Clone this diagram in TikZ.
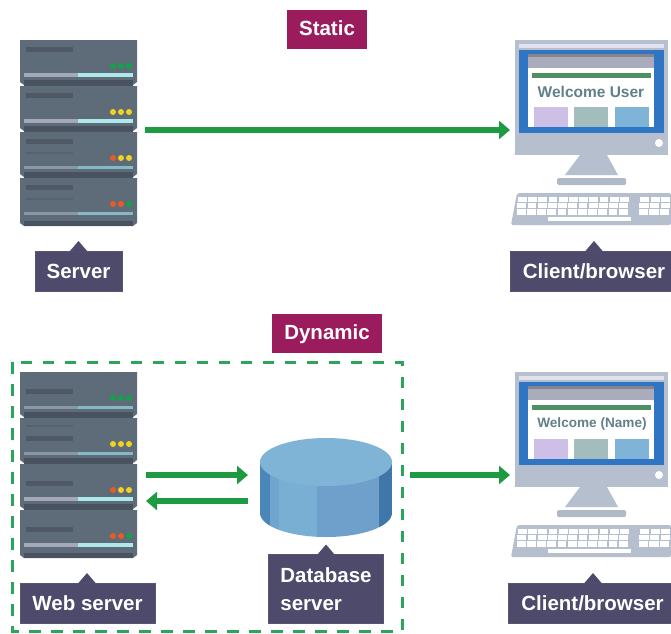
\documentclass[tikz,border=0pt]{standalone}
\usepackage{fontspec}
\setmainfont{Liberation Sans}
\usetikzlibrary{arrows.meta}
\definecolor{gr}{HTML}{1E9A42}
\definecolor{dashc}{HTML}{2BA55A}
\definecolor{lab}{HTML}{4D4A6C}
\definecolor{mag}{HTML}{9B1C5C}
\definecolor{srv}{HTML}{5E6B79}
\definecolor{srvd}{HTML}{48535F}
\definecolor{srvt}{HTML}{4F5965}
\definecolor{srvf}{HTML}{56626F}
\definecolor{mon}{HTML}{B6BFCE}
\definecolor{scr}{HTML}{2F75C4}
\definecolor{ledg}{HTML}{12A34A}
\definecolor{ledy}{HTML}{F2D21E}
\definecolor{ledr}{HTML}{EC5A24}
\definecolor{wel}{HTML}{62808A}
\definecolor{stripa}{HTML}{A4A8B8}
\definecolor{stripb}{HTML}{AEE8EA}
\definecolor{stripc}{HTML}{8A97A5}
\definecolor{stripd}{HTML}{85BAC4}
\definecolor{topbar}{HTML}{E2E1EE}
\definecolor{greyb}{HTML}{A9ADBB}
\definecolor{greybt}{HTML}{85848F}
\definecolor{line}{HTML}{4F8F63}
\definecolor{sqa}{HTML}{CDBFE6}
\definecolor{sqb}{HTML}{A3BDBD}
\definecolor{sqc}{HTML}{7FB4D8}
\definecolor{cyltop}{HTML}{7FB4D6}
\definecolor{cyla}{HTML}{4A86B8}
\definecolor{cylb}{HTML}{6FA6D0}
\definecolor{cylc}{HTML}{7AAFD4}
\definecolor{cyld}{HTML}{6F9FCB}
\definecolor{cyle}{HTML}{3F78A8}
\tikzset{
  flow/.style={draw=gr,line width=5.5pt,-{Triangle[length=11pt,width=18pt]}},
  lbl/.style={fill=lab,text=white,font=\fontsize{20.5}{28}\selectfont\bfseries,inner sep=0pt,align=left,draw=lab!80!gray,line width=.6pt},
  tag/.style={fill=mag,text=white,font=\fontsize{20.5}{24}\selectfont\bfseries,inner sep=0pt,text height=15pt,text depth=4pt},
  welc/.style={text=wel,inner sep=0pt}
}
% one rack unit: top y, height, three LED colours, extra drawing
\newcommand{\rackunit}[6]{%
  \begin{scope}[shift={(0,#1)}]
    \fill[srv] (20,0) -- (137,0) -- (137,#2-3) -- (133,#2) -- (24,#2) -- (20,#2-3) -- cycle;
    \fill[srvd] (24,#2-5) rectangle (133,#2);
    \fill[#3] (113,26) circle (3);
    \fill[#4] (121,26) circle (3);
    \fill[#5] (129,26) circle (3);
    \fill[stripc] (24,33.5) rectangle (78,36.5);
    \fill[stripd] (78,33.5) rectangle (133,36.5);
    #6
  \end{scope}}
\newcommand{\brightstrip}{\fill[stripa] (24,33) rectangle (78,36.5);\fill[stripb] (78,33) rectangle (133,36.5);}
\newcommand{\rackbar}[1]{\fill[srvt] (26,#1) rectangle (73,#1+4.5);}
\newcommand{\rackfaint}[1]{\fill[srvf] (26,#1) rectangle (73,#1+1.5);}
\newcommand{\rackone}{%
  \fill[srvd] (24,40) rectangle (133,226);
  \rackunit{40}{45}{ledg}{ledg}{ledg}{\brightstrip\rackbar{7}}
  \rackunit{86}{45}{ledy}{ledy}{ledy}{\brightstrip\rackbar{7}}
  \rackunit{132}{45}{ledr}{ledy}{ledy}{\rackbar{7}\rackfaint{20}}
  \rackunit{178}{48}{ledr}{ledr}{ledg}{\rackbar{7}\rackfaint{20}}}
\newcommand{\racktwo}{%
  \fill[srvd] (24,40) rectangle (133,226);
  \rackunit{40}{45}{ledg}{ledg}{ledg}{\rackbar{17}}
  \rackunit{86}{45}{ledy}{ledy}{ledy}{\rackfaint{7}\rackbar{18}}
  \rackunit{132}{45}{ledr}{ledy}{ledy}{\brightstrip\rackbar{17}}
  \rackunit{178}{48}{ledr}{ledr}{ledg}{\brightstrip\rackbar{17}}}
\newcommand{\desktop}[1]{%
  \fill[mon] (515,40) rectangle (668,155);
  \fill[topbar] (519,44) rectangle (664,48);
  \fill[scr] (519,50) rectangle (664,133);
  \fill[white] (528,54) rectangle (654,127);
  \fill[greyb] (528,54) rectangle (654,68);
  \fill[greybt] (528,54) rectangle (654,57);
  \fill[line] (532,73) rectangle (651,77.5);
  #1
  \fill[sqa] (534,107) rectangle (568,127);
  \fill[sqb] (574,107) rectangle (608,127);
  \fill[sqc] (615,107) rectangle (649,127);
  \fill[white] (659,143) circle (4);
  \fill[mon] (580,155) -- (607,155) -- (618,175) -- (565,175) -- cycle;
  \fill[mon!90!gray,rounded corners=1.5pt] (557,178) rectangle (626,185);
  \fill[mon,rounded corners=2pt] (517,193) -- (671,193) -- (671,225) -- (511,225) -- cycle;
  \foreach \rw in {0,1,2} {
    \foreach \cl in {0,...,10}
      \fill[white] (518+\cl*10.2-\rw*.6,197+\rw*6.2) rectangle ++(8.8,5.2);
    \foreach \cl in {0,1,2}
      \fill[white] (640+\cl*10.6-\rw*.6,197+\rw*6.2) rectangle ++(9.2,5.2);
  }
  \fill[white] (548,217) rectangle (631,220.5);
}
% label box: name, centre x, centre y, width, height, tip x, text
\newcommand{\tagbox}[7]{%
  \node[lbl,minimum width=#4pt,minimum height=#5pt] (#1) at (#2,#3) {#7};
  \fill[lab] (#6-9,#3-#5/2+.5) -- (#6,#3-#5/2-10) -- (#6+9,#3-#5/2+.5) -- cycle;}
\begin{document}
\begin{tikzpicture}[x=1pt,y=-1pt]
\useasboundingbox (0,0) rectangle (671,633);
\fill[white] (0,0) rectangle (671,633);
% static part
\node[tag,minimum width=80pt,minimum height=39pt] (static) at (327,29.5) {Static};
\rackone
\desktop{\node[welc,font=\fontsize{15.5}{18}\selectfont\bfseries] (welcome) at (591,92) {Welcome User};}
\tagbox{serverlabel}{78.5}{271}{87}{40}{78.5}{Server}
\tagbox{clientlabel}{594}{271}{168}{40}{594}{Client/browser}
\coordinate (serverout) at (145,130);
\coordinate (clientin) at (510,130);
\draw[flow] (serverout) -- (clientin);
% dynamic part
\node[tag,minimum width=110pt,minimum height=39pt] (dynamic) at (327,333.5) {Dynamic};
\draw[dashc,line width=3pt,dash pattern=on 11.5pt off 10.5pt] (12,362) rectangle (402,631);
\begin{scope}[shift={(0,332)}]
  \racktwo
  \desktop{\node[welc,font=\fontsize{13.6}{16}\selectfont\bfseries] (welcomename) at (592,92) {Welcome (Name)};}
\end{scope}
% database cylinder
\begin{scope}
  \clip (260,462) -- (260,513) arc[x radius=66,y radius=24,start angle=180,end angle=0] -- (392,462) -- cycle;
  \fill[cyla] (260,462) rectangle (270,540);
  \fill[cylb] (270,462) rectangle (279,540);
  \fill[cylc] (279,462) rectangle (317,540);
  \fill[cyld] (317,462) rectangle (379,540);
  \fill[cyle] (379,462) rectangle (392,540);
\end{scope}
\fill[cyltop] (326,462) ellipse[x radius=66,y radius=24];
\tagbox{webserverlabel}{87.5}{603}{135}{40}{87}{Web server}
\tagbox{databaselabel}{326}{589}{115}{69}{326}{Database\\server}
\tagbox{clientlabeltwo}{592.5}{603}{169}{40}{593}{Client/browser}
\coordinate (webout) at (146,475);
\coordinate (dbin) at (248,475);
\coordinate (dbout) at (248,501);
\coordinate (webin) at (146,501);
\coordinate (boxout) at (410,475);
\coordinate (clientintwo) at (510,475);
\draw[flow] (webout) -- (dbin);
\draw[flow] (dbout) -- (webin);
\draw[flow] (boxout) -- (clientintwo);
\end{tikzpicture}
\end{document}
